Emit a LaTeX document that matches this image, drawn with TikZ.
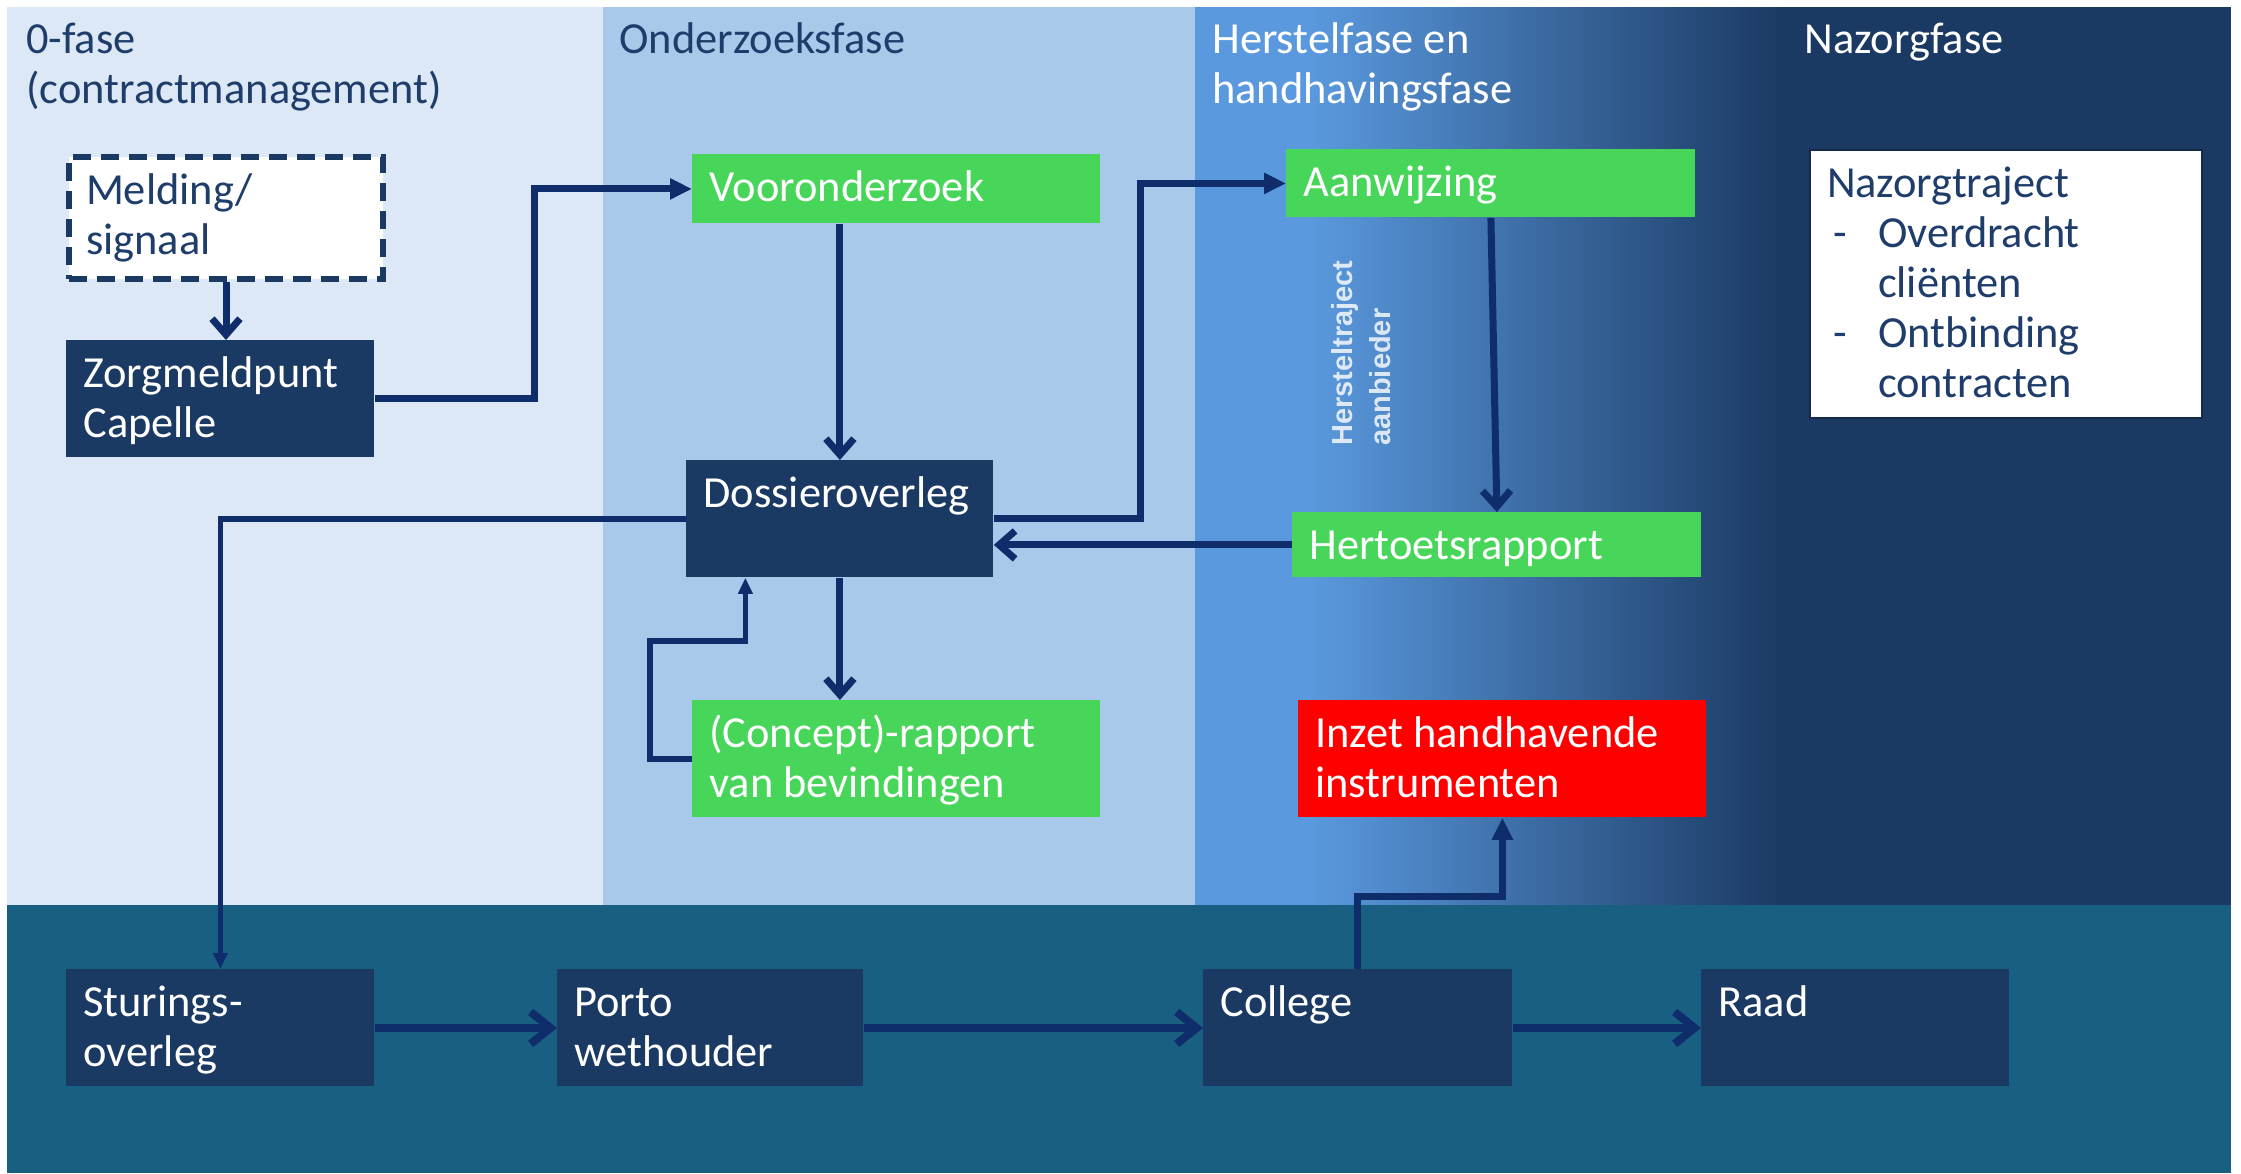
\documentclass[tikz,border=0pt]{standalone}
\usepackage{fontspec}
\setmainfont{Carlito}
\newfontfamily\rotfont{Liberation Sans}
\usetikzlibrary{arrows.meta}
\definecolor{bgA}{HTML}{DCE8F5}
\definecolor{bgB}{HTML}{A9C9EA}
\definecolor{bgC}{HTML}{5A99DE}
\definecolor{navy}{HTML}{1B3A63}
\definecolor{band}{HTML}{195F82}
\definecolor{boxgreen}{HTML}{48D65A}
\definecolor{arrowc}{HTML}{0F2D6B}
\definecolor{headtxt}{HTML}{1F3D6B}
\newcommand{\bt}[3]{\parbox[c][\dimexpr #2pt/2-12pt\relax][t]{\dimexpr #1pt/2-17pt\relax}{\strut #3}}
\tikzset{
  box/.style={rectangle, inner xsep=8.5pt, inner ysep=6pt, anchor=north west, font=\fontsize{22.2}{25}\selectfont, text=white},
  navybox/.style={box, fill=navy},
  greenbox/.style={box, fill=boxgreen},
  redbox/.style={box, fill=red},
  whitebox/.style={box, fill=white, text=headtxt},
  dashbox/.style={box, fill=white, text=headtxt, draw=navy, line width=3pt, dash pattern=on 9pt off 5pt},
  head/.style={anchor=north west, inner sep=0pt, align=left, font=\fontsize{22.2}{25}\selectfont},
  arr/.style={draw=arrowc, line width=3.5pt, -{Straight Barb[length=8pt,width=14pt]}},
  barr/.style={draw=arrowc, line width=4pt, -{Straight Barb[length=10pt,width=16pt]}},
  tri/.style={draw=arrowc, line width=3.5pt, -{Triangle[length=11pt,width=10pt]}},
  tris/.style={draw=arrowc, line width=2.8pt, -{Triangle[length=8pt,width=7pt]}},
}
\begin{document}
\begin{tikzpicture}[x=0.5pt,y=-0.5pt]
\useasboundingbox (0,0) rectangle (2241,1173);
\fill[white] (0,0) rectangle (2241,1173);
\fill[bgA] (7,7) rectangle (603,905);
\fill[bgB] (603,7) rectangle (1195,905);
\fill[navy] (1195,7) rectangle (2231,905);
\fill[bgC] (1195,7) rectangle (1310,905);
\shade[left color=bgC, right color=navy] (1310,7) rectangle (1780,905);
\fill[band] (7,905) rectangle (2231,1173);

% headings
\node[head, text=headtxt] (h1) at (26,18) {\strut 0-fase\\(contractmanagement)};
\node[head, text=headtxt] (h2) at (619,18) {\strut Onderzoeksfase};
\node[head, text=white] (h3) at (1212,18) {\strut Herstelfase en\\handhavingsfase};
\node[head, text=white] (h4) at (1804,18) {\strut Nazorgfase};

% nodes
\node[dashbox] (mel) at (66,154) {\bt{314}{122}{Melding/\\signaal}};
\node[navybox] (zorg) at (66,340) {\bt{308}{117}{Zorgmeldpunt\\Capelle}};
\node[greenbox] (voor) at (692,154) {\bt{408}{69}{Vooronderzoek}};
\node[navybox] (dos) at (686,460) {\bt{307}{117}{Dossieroverleg}};
\node[greenbox] (con) at (692,700) {\bt{408}{117}{(Concept)-rapport\\van bevindingen}};
\node[greenbox] (aan) at (1286,149) {\bt{409}{68}{Aanwijzing}};
\node[greenbox] (her) at (1292,512) {\bt{409}{65}{Hertoetsrapport}};
\node[redbox] (inz) at (1298,700) {\bt{408}{117}{Inzet handhavende\\instrumenten}};
\node[whitebox, draw=navy!70!black, line width=1pt] (naz) at (1809,149) {\bt{392}{268}{Nazorgtraject\\
\makebox[25.5pt][l]{\hspace{3pt}-}Overdracht\\
\hspace*{25.5pt}cliënten\\
\makebox[25.5pt][l]{\hspace{3pt}-}Ontbinding\\
\hspace*{25.5pt}contracten}};
\node[navybox] (stu) at (66,969) {\bt{308}{117}{Sturings-\\overleg}};
\node[navybox] (por) at (557,969) {\bt{306}{117}{Porto\\wethouder}};
\node[navybox] (col) at (1203,969) {\bt{309}{117}{College}};
\node[navybox] (raad) at (1701,969) {\bt{308}{117}{Raad}};

\node[rotate=90, align=left, text=white, opacity=0.8, inner sep=0pt,
  font=\rotfont\bfseries\fontsize{14.5}{19}\selectfont] (rot) at (1361,353) {Hersteltraject\\aanbieder};

% connectors
\draw[arr] (mel.south) -- (mel.south |- zorg.north);
\draw[tri] (zorg.east) -- ++(160,0) |- (voor.west);
\draw[arr] (dos.north |- voor.south) -- (dos.north);
\draw[tri] (dos.east) -- ++(147,0) |- (aan.west);
\draw[arr] (aan.south) -- (her.north);
\draw[arr] (her.west) -- (her.west -| dos.east);
\draw[arr] (dos.south) -- (dos.south |- con.north);
\draw[tris] (con.west) -- ++(-42,0) -- ++(0,-118) -| ([xshift=-47.25pt]dos.south);
\draw[tris] (dos.west) -| (stu.north);
\draw[barr] (stu.east) -- (por.west);
\draw[barr] (por.east) -- (col.west);
\draw[barr] (col.east) -- (raad.west);
\draw[tri] (col.north) -- ++(0,-73) -| (inz.south);
\end{tikzpicture}
\end{document}
